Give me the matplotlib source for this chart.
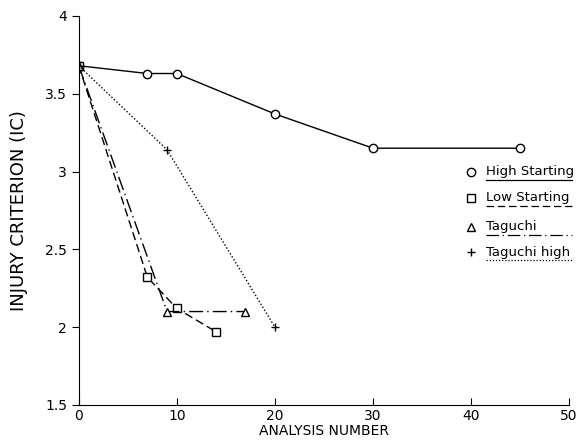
import matplotlib
matplotlib.use("Agg")
import matplotlib.pyplot as plt
from matplotlib.lines import Line2D

# data
high_x = [0, 7, 10, 20, 30, 45]
high_y = [3.68, 3.63, 3.63, 3.37, 3.15, 3.15]
low_x = [0, 7, 10, 14]
low_y = [3.68, 2.32, 2.12, 1.97]
tag_x = [0, 9, 17]
tag_y = [3.68, 2.10, 2.10]
taghigh_x = [0, 9, 20]
taghigh_y = [3.68, 3.14, 2.00]

labels = ["High Starting", "Low Starting", "Taguchi", "Taguchi high"]
markers = ["o", "s", "^", "+"]
styles = ["-", (0, (6, 3)), (0, (10, 3, 1, 3)), (0, (1, 1.5))]

fig = plt.figure(figsize=(5.79, 4.43), dpi=100)
ax = fig.add_axes([0.136, 0.086, 0.847, 0.878])

series = [(high_x, high_y), (low_x, low_y), (tag_x, tag_y), (taghigh_x, taghigh_y)]
for (x, y), m, ls in zip(series, markers, styles):
    ax.plot(x, y, color="black", lw=1.0, linestyle=ls, marker=m,
            markersize=6, markerfacecolor="white", markeredgecolor="black",
            markeredgewidth=1.0)

ax.set_xlim(0, 50)
ax.set_ylim(1.5, 4)
ax.set_xticks([0, 10, 20, 30, 40, 50])
ax.set_yticks([1.5, 2, 2.5, 3, 3.5, 4])
ax.set_yticklabels(["1.5", "2", "2.5", "3", "3.5", "4"])
ax.spines["top"].set_visible(False)
ax.spines["right"].set_visible(False)
ax.tick_params(axis="y", direction="out", length=5, labelsize=10)
ax.tick_params(axis="x", direction="in", length=5, labelsize=10, pad=3)
ax.set_xlabel("ANALYSIS NUMBER", fontsize=10, labelpad=1)
ax.set_ylabel("INJURY CRITERION (IC)", fontsize=13, labelpad=12)

# legend: marker, text, underline in the series line style
rows = [0.599, 0.532, 0.458, 0.393]
for lab, m, ls, yy in zip(labels, markers, styles, rows):
    ax.plot([0.8], [yy], transform=ax.transAxes, marker=m, color="black",
            markersize=6, markerfacecolor="white", markeredgewidth=1.0,
            clip_on=False)
    ax.text(0.831, yy, lab, transform=ax.transAxes, fontsize=9.5,
            va="center", ha="left")
    ax.add_line(Line2D([0.831, 1.006], [yy - 0.021, yy - 0.021],
                       transform=ax.transAxes, color="black", lw=0.9,
                       linestyle=ls, clip_on=False))

fig.savefig("out.png", dpi=100)
